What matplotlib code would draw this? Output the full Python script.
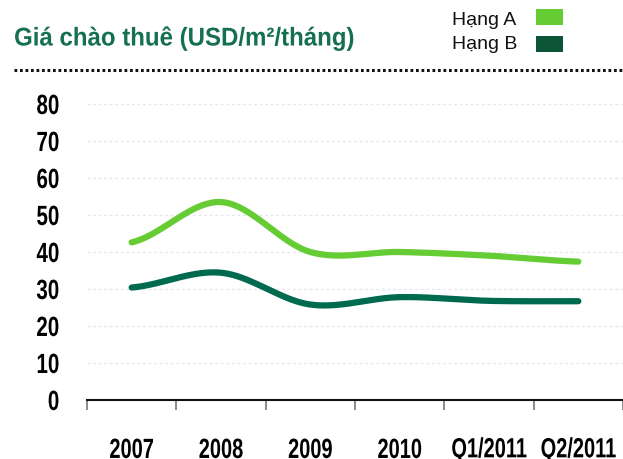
import numpy as np
import matplotlib
matplotlib.use("Agg")
import matplotlib.pyplot as plt
from matplotlib.patheffects import AbstractPathEffect
from matplotlib.transforms import Affine2D

categories = ["2007", "2008", "2009", "2010", "Q1/2011", "Q2/2011"]
hang_a = [42.6, 53.5, 40.0, 40.0, 39.0, 37.4]
hang_b = [30.4, 34.4, 25.8, 27.8, 26.8, 26.7]
yticks = [0, 10, 20, 30, 40, 50, 60, 70, 80]
series_names = ["Hạng A", "Hạng B"]
title = "Giá chào thuê (USD/m²/tháng)"

FONT = "Liberation Sans"
C_A = "#66cc33"
C_B = "#006a4e"
C_B_LEG = "#0b5436"
C_TITLE = "#14704f"


class Stretch(AbstractPathEffect):
    """Scale the glyphs (the text stays a real text object)."""

    def __init__(self, sx=1.0, sy=1.0, anchor="center"):
        super().__init__()
        self.sx = sx
        self.sy = sy
        self.anchor = anchor

    def draw_path(self, renderer, gc, tpath, affine, rgbFace=None):
        ext = tpath.get_extents()
        if self.anchor == "left":
            x0 = ext.x0
        elif self.anchor == "right":
            x0 = ext.x1
        else:
            x0 = 0.5 * (ext.x0 + ext.x1)
        y0 = 0.5 * (ext.y0 + ext.y1)
        t = (Affine2D().translate(-x0, -y0).scale(self.sx, self.sy)
             .translate(x0, y0) + affine)
        renderer.draw_path(gc, tpath, t, rgbFace)


def catmull(x, y, n=40):
    x = np.asarray(x, float)
    y = np.asarray(y, float)
    px = np.concatenate([[x[0]], x, [x[-1]]])
    py = np.concatenate([[y[0]], y, [y[-1]]])
    xs, ys = [], []
    for i in range(1, len(px) - 2):
        t = np.linspace(0, 1, n)
        p0, p1, p2, p3 = py[i - 1], py[i], py[i + 1], py[i + 2]
        m1 = (p2 - p0) / 2
        m2 = (p3 - p1) / 2
        h00 = 2 * t**3 - 3 * t**2 + 1
        h10 = t**3 - 2 * t**2 + t
        h01 = -2 * t**3 + 3 * t**2
        h11 = t**3 - t**2
        ys.append(h00 * p1 + h10 * m1 + h01 * p2 + h11 * m2)
        xs.append(px[i] + t * (px[i + 1] - px[i]))
    return np.concatenate(xs), np.concatenate(ys)


fig = plt.figure(figsize=(6.23, 4.6), dpi=100)
ax = fig.add_axes([87 / 623, 1 - 401 / 460, (623 - 87) / 623, (401 - 105) / 460])

xpos = np.arange(len(categories))
for vals, col in [(hang_a, C_A), (hang_b, C_B)]:
    sx, sy = catmull(xpos, vals)
    ax.plot(sx, sy, color=col, lw=4.5, solid_capstyle="round", zorder=3)

ax.set_ylim(0, 80)
ax.set_xlim(-0.5, -0.5 + 536 / 90.4)

# tick labels: narrow font size, stretched vertically to look like a tall condensed face
YS = 0.74
ax.set_yticks(yticks)
ax.set_yticklabels([str(v) for v in yticks], fontfamily=FONT, fontweight="bold",
                   fontsize=20 * YS)
ax.tick_params(axis="y", length=0, pad=20)
for lab in ax.get_yticklabels():
    lab.set_path_effects([Stretch(1.0, 1 / YS, "right")])
for v in yticks[1:]:
    ax.axhline(v, color="#e6e6f2", lw=1.0, ls=(0, (2, 2)), zorder=1)

XS = 0.72
ax.set_xticks(xpos)
ax.set_xticklabels(categories, fontfamily=FONT, fontweight="bold", fontsize=20 * XS)
for lab in ax.get_xticklabels():
    lab.set_path_effects([Stretch(1.0, 1 / XS, "center")])
ax.set_xticks(np.arange(len(categories) + 1) - 0.5, minor=True)
ax.tick_params(axis="x", which="major", length=0, pad=29)
ax.tick_params(axis="x", which="minor", length=7, width=1.2, color="#777777")

for s in ["top", "right", "left"]:
    ax.spines[s].set_visible(False)
ax.spines["bottom"].set_linewidth(1.5)
ax.spines["bottom"].set_color("#111111")

ttl = fig.text(14 / 623, 1 - 46.5 / 460, title, fontfamily=FONT, fontweight="bold",
               fontsize=18.5, color=C_TITLE, ha="left", va="baseline")
renderer = fig.canvas.get_renderer()
tw = ttl.get_window_extent(renderer).width
ttl.set_path_effects([Stretch(341.0 / tw, 1.0, "left")])

fig.add_artist(plt.Line2D([14 / 623, 1], [1 - 71 / 460] * 2, transform=fig.transFigure,
                          color="#111111", lw=2.2, ls=(0, (0.9, 0.9))))

leg_rows = [(series_names[0], C_A, 25, 10), (series_names[1], C_B_LEG, 49, 37)]
for name, col, base, top in leg_rows:
    fig.text(452 / 623, 1 - base / 460, name, fontfamily=FONT,
             fontsize=14, color="#111111", ha="left", va="baseline")
    fig.add_artist(plt.Rectangle((536 / 623, 1 - (top + 16) / 460), 27 / 623, 16 / 460,
                                 transform=fig.transFigure, color=col, lw=0))

fig.savefig("out.png", dpi=100)
